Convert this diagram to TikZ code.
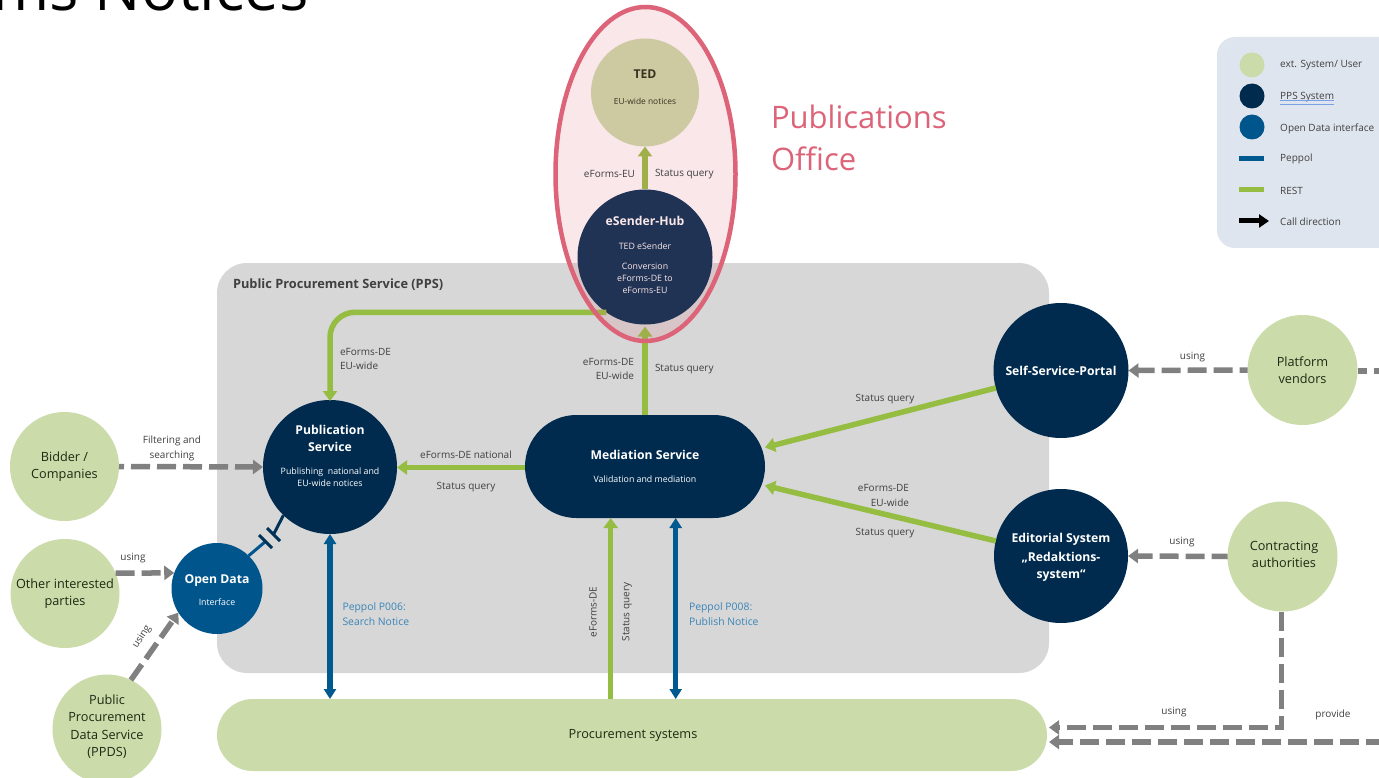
\documentclass[tikz,border=0pt]{standalone}
\usepackage{fontspec}
\setmainfont{Open Sans}
\usetikzlibrary{arrows.meta,calc}
\definecolor{extg}{HTML}{CBDBA9}
\definecolor{ppsd}{HTML}{002B4E}
\definecolor{opend}{HTML}{00558C}
\definecolor{restg}{HTML}{95BD41}
\definecolor{peppolb}{HTML}{005A8F}
\definecolor{peppolt}{HTML}{3A85B8}
\definecolor{callg}{HTML}{808080}
\definecolor{panelg}{HTML}{D7D7D7}
\definecolor{pubr}{HTML}{DC6378}
\definecolor{legbg}{HTML}{DFE5EE}
\definecolor{labt}{HTML}{404040}
\definecolor{darkt}{HTML}{1F2A14}
\definecolor{spell}{HTML}{7AA0E8}
\newcommand\ttlf{\fontsize{12.2}{12}\selectfont\bfseries}
\tikzset{
  x=1pt,y=-1pt,
  extc/.style={circle,fill=extg,inner sep=0pt,outer sep=0pt,text=darkt,align=center,font=\fontsize{12.7}{17.5}\selectfont},
  ppsc/.style={circle,fill=ppsd,inner sep=0pt,outer sep=0pt,text=white,align=center,font=\fontsize{8.8}{12}\selectfont},
  lab/.style={inner sep=0pt,outer sep=0pt,text=labt,font=\fontsize{10}{14.5}\selectfont,align=center,yshift=-1pt},
  labl/.style={lab,align=left,anchor=west},
  labr/.style={lab,align=right,anchor=east},
  pepl/.style={labl,text=peppolt,font=\fontsize{10.4}{14.5}\selectfont},
  legt/.style={inner sep=0pt,anchor=west,text=labt,font=\fontsize{10}{11}\selectfont},
  rest/.style={draw=restg,line width=5.5pt,-{Triangle[length=10pt,width=14pt]}},
  peppol/.style={draw=peppolb,line width=5.5pt,{Triangle[length=10pt,width=12pt]}-{Triangle[length=10pt,width=12pt]}},
  call/.style={draw=callg,line width=5.5pt,dash pattern=on 19pt off 7pt,-{Triangle[length=10pt,width=14pt]}},
  callnt/.style={draw=callg,line width=5.5pt,dash pattern=on 19pt off 7pt},
}
\begin{document}
\begin{tikzpicture}
\useasboundingbox (0,0) rectangle (1379,778);
\clip (0,0) rectangle (1379,778);
\fill[white] (0,0) rectangle (1379,778);
% title
\node[inner sep=0pt,anchor=base west,font=\fontsize{61.5}{61.5}\selectfont,text=black] (title) at (-8,11) {ms Notices};
% panels
\fill[panelg,rounded corners=30pt] (217,263) rectangle (1049,673);
\fill[legbg,rounded corners=18pt] (1217,37) rectangle (1410,248);
\node[labl,font=\fontsize{12.8}{14}\selectfont\bfseries,text=labt] (ppslab) at (233,284) {Public Procurement Service (PPS)};
% nodes
\node[fill=extg,rounded corners=36pt,minimum width=830pt,minimum height=72pt,inner sep=0pt,outer sep=0pt,text=darkt,font=\fontsize{12.7}{14}\selectfont] (procure) at (632,735) {\hspace*{2pt}Procurement systems};
\node[ppsc,minimum size=134pt] (pub) at (330,467) {{\ttlf Publication}\\[5.5pt]{\ttlf Service}\\[11pt]Publishing\ \ national and\\EU-wide notices\\[10pt]\mbox{}};
\node[ppsc,rounded corners=51.5pt,rectangle,minimum width=240pt,minimum height=103pt] (med) at (645,466.5) {{\ttlf Mediation Service}\\[11.5pt]Validation and mediation};
\node[ppsc,minimum size=135pt] (self) at (1061,370.5) {\ttlf Self-Service-Portal};
\node[ppsc,minimum size=134pt] (edit) at (1061,556) {\mbox{}\\[0pt]{\ttlf Editorial System}\\[5.5pt]{\ttlf „Redaktions-}\\[5.5pt]{\ttlf system“}};
\node[extc,minimum size=108pt] (ted) at (645,92.5) {{\ttlf TED}\\[8.5pt]{\fontsize{8.4}{12}\selectfont EU-wide notices}\\[-6pt]\mbox{}};
\node[ppsc,minimum size=135pt] (esender) at (645,257) {{\ttlf eSender-Hub}\\[12pt]TED eSender\\[8.5pt]Conversion\\eForms-DE to\\eForms-EU\\[-8pt]\mbox{}};
\node[extc,minimum size=109pt] (bidder) at (64.5,466.5) {Bidder /\\Companies};
\node[extc,minimum size=109pt] (other) at (65,593.5) {Other interested\\parties};
\node[extc,minimum size=109pt] (ppds) at (107,729) {Public\\Procurement\\Data Service\\(PPDS)\\[-10.5pt]\mbox{}};
\node[extc,minimum size=110pt] (platform) at (1302.5,370) {Platform\\vendors};
\node[extc,minimum size=110pt] (contract) at (1282.5,556.5) {\hspace*{3pt}Contracting\\\hspace*{3pt}authorities\\[-13.5pt]\mbox{}};
\node[ppsc,fill=opend,minimum size=91pt] (open) at (217,588.5) {\mbox{}\\[0pt]{\ttlf Open Data}\\[10pt]Interface};
% free ends
\coordinate (offr1) at (1385,371);
\coordinate (offr2) at (1385,742);
\coordinate (proc1) at (1049,727.5);
\coordinate (proc2) at (1049,742);
\coordinate (mp1) at ($(med.west)+(0,1)$);
\coordinate (bar1a) at (259,535);
\coordinate (bar1b) at (272,548);
\coordinate (bar2a) at (267,528);
\coordinate (bar2b) at (280,541);
\coordinate (barm1) at (265.5,541.5);
\coordinate (barm2) at (273.5,534.5);
% connectors: REST
\draw[rest] (med.north) -- ($(esender.south)+(0,2)$);
\draw[rest] (esender.north) -- (ted.south);
\draw[rest,rounded corners=25pt] (esender.235) -- (pub.north |- esender.235) -- ($(pub.north)+(0,1)$);
\draw[rest] (mp1) -- (pub.east |- mp1);
\draw[rest] (self.195) -- (med.9.2);
\draw[rest] (edit.167) -- (med.-9);
\draw[rest] (procure.north -| 610.7,0) -- (610.7,0 |- med.south);
% connectors: Peppol
\draw[peppol] (pub.south) -- (pub.south |- procure.north);
\draw[peppol] (675.7,0 |- med.south) -- (675.7,0 |- procure.north);
\draw[draw=opend,line width=3pt] (open.46) -- (barm1);
\draw[draw=ppsd!85!opend,line width=3pt] (barm2) -- (pub.226);
\draw[draw=ppsd!85!opend,line width=3pt] (bar1a) -- (bar1b);
\draw[draw=ppsd!85!opend,line width=3pt] (bar2a) -- (bar2b);
% connectors: calls
\draw[call,dash phase=14pt] (bidder.east) -- (pub.west);
\draw[call] (other.22) -- (open.160);
\draw[call] (ppds.64) -- (open.212);
\draw[call,dash phase=11pt] (platform.west) -- (self.east);
\draw[callnt,dash phase=8pt] (offr1) -- (platform.east |- offr1);
\draw[call,dash phase=3pt] (contract.west) -- (edit.east);
\draw[call,line join=miter] (contract.south -| 1281.7,0) -- (1281.7,0 |- proc1) -- (proc1);
\draw[call] (offr2) -- (proc2);
% publications office overlay
\draw[pubr,line width=4.5pt,fill=pubr,fill opacity=0.15] (645.5,174) ellipse [x radius=90,y radius=167];
\node[labl,text=pubr,align=left,font=\fontsize{31}{42}\selectfont] (puboff) at (771,137) {Publications\\Office};
% labels
\node[lab] (l1) at (172,447.5) {Filtering and\\searching};
\node[lab] (l2) at (133,557) {using};
\node[lab,rotate=57] (l3) at (142,636) {using};
\node[pepl] (l4) at (342.5,613) {Peppol P006:\\Search Notice};
\node[pepl] (l5) at (689,613) {Peppol P008:\\Publish Notice};
\node[labl] (l6) at (340,358) {eForms-DE\\EU-wide};
\node[labr] (l7) at (634,368) {eForms-DE\\EU-wide};
\node[labl] (l8) at (655,368) {Status query};
\node[labr] (l9) at (635,173) {eForms-EU};
\node[labl] (l10) at (655,173) {Status query};
\node[lab] (l11) at (466,453.5) {eForms-DE national};
\node[lab] (l12) at (466,486) {Status query};
\node[lab,rotate=90] (l13) at (593,611) {eForms-DE};
\node[lab,rotate=90] (l14) at (627,611) {Status query};
\node[lab] (l15) at (885,398.5) {Status query};
\node[labr] (l16) at (909,494.5) {eForms-DE\\EU-wide};
\node[lab] (l17) at (885,532.5) {Status query};
\node[lab] (l18) at (1192.5,356) {using};
\node[lab] (l19) at (1182,541) {using};
\node[lab] (l20) at (1174,711) {using};
\node[lab] (l21) at (1333,714) {provide};
% legend
\node[circle,fill=extg,minimum size=25pt,inner sep=0pt] (lg1) at (1252,65) {};
\node[circle,fill=ppsd,minimum size=25pt,inner sep=0pt] (lg2) at (1252,96) {};
\node[circle,fill=opend,minimum size=25pt,inner sep=0pt] (lg3) at (1252,127) {};
\coordinate (lg4a) at (1239,159); \coordinate (lg4b) at (1264,159);
\coordinate (lg5a) at (1239,190); \coordinate (lg5b) at (1264,190);
\coordinate (lg6a) at (1239,221); \coordinate (lg6b) at (1269,221);
\draw[peppolb,line width=5pt] (lg4a) -- (lg4b);
\draw[restg,line width=5pt] (lg5a) -- (lg5b);
\draw[black,line width=5pt,-{Triangle[length=10pt,width=13pt]}] (lg6a) -- (lg6b);
\node[legt] (t1) at (1280,65) {ext. System/ User};
\node[legt] (t2) at (1280,97) {PPS System};
\node[legt] (t3) at (1280,128.5) {Open Data interface};
\node[legt] (t4) at (1280,159) {Peppol};
\node[legt] (t5) at (1280,190.5) {REST};
\node[legt] (t6) at (1280,221.5) {Call direction};
\draw[spell,line width=1pt] (1280,100.7) -- (1334,100.7);
\draw[spell,line width=1pt] (1280,105) -- (1334,105);
\end{tikzpicture}
\end{document}
